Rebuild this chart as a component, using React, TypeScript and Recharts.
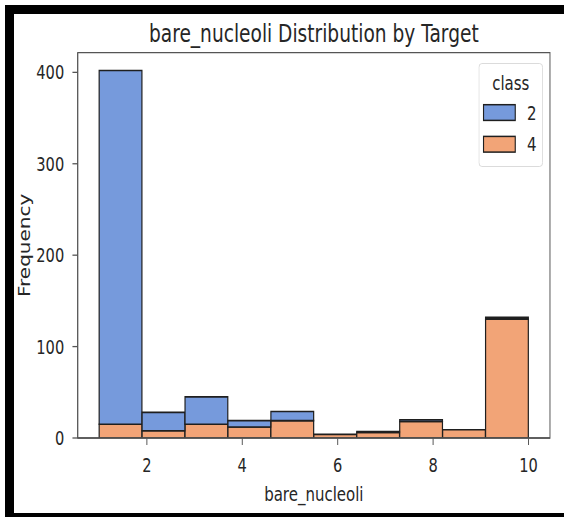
import React from 'react';
import { BarChart, Bar, XAxis, YAxis, Legend, ReferenceArea } from 'recharts';

// ---- data ----
const binCenters = [1.45, 2.35, 3.25, 4.15, 5.05, 5.95, 6.85, 7.75, 8.65, 9.55];
const class2Counts = [387, 20, 30, 7, 10, 0, 1, 2, 0, 2];
const class4Counts = [15, 8, 15, 12, 19, 4, 6, 18, 9, 130];
const xTicks = [2, 4, 6, 8, 10];
const yTicks = [0, 100, 200, 300, 400];
const classLabels = ['2', '4'];
const titleText = 'bare_nucleoli Distribution by Target';
const xLabelText = 'bare_nucleoli';
const yLabelText = 'Frequency';
const legendTitle = 'class';

// ---- styles ----
const C2 = '#769adc';
const C4 = '#f2a477';
const EDGE = '#1f1f1f';
const SPINE = '#555555';
const TXT = '#262626';
const FONT = '"DejaVu Sans", sans-serif';
const SX = 0.75; // horizontal squeeze of the reference
const W = 564 / SX;
const H = 517;

const data = binCenters.map((x, i) => ({ x, c2: class2Counts[i], c4: class4Counts[i] }));

const LegendBox = () => (
  <svg width={86} height={104} style={{ display: 'block' }}>
    <rect x={0.5} y={0.5} width={85} height={103} rx={4} ry={4} fill="#ffffff" fillOpacity={0.85} stroke="#d6d6d6" strokeWidth={1} />
    <text x={43} y={26.7} textAnchor="middle" fontSize={20} fontFamily={FONT} fill={TXT}>{legendTitle}</text>
    {classLabels.map((lab, i) => (
      <g key={lab}>
        <rect x={6.7} y={41.7 + i * 31.7} width={42.3} height={15.7} fill={i === 0 ? C2 : C4} stroke={EDGE} strokeWidth={1.5} />
        <text x={64.6} y={49.7 + i * 31.7} dy="0.355em" fontSize={20} fontFamily={FONT} fill={TXT}>{lab}</text>
      </g>
    ))}
  </svg>
);

export default function App() {
  const plotLeft = 103.6;
  const plotRight = 733.3;
  const plotTop = 52.7;
  const plotBottom = 438;
  const cx = (plotLeft + plotRight) / 2;
  return (
    <div style={{ position: 'absolute', left: 0, top: 0, width: 564, height: 517, overflow: 'hidden', background: '#ffffff' }}>
      <div style={{ position: 'absolute', left: 0, top: 0, width: W, height: H, transform: `scaleX(${SX})`, transformOrigin: '0 0' }}>
        <BarChart
          width={W}
          height={H}
          data={data}
          margin={{ top: plotTop, right: W - plotRight, bottom: 0, left: 0 }}
          barCategoryGap={0}
          barGap={0}
        >
          <XAxis
            type="number"
            dataKey="x"
            domain={[0.55, 10.45]}
            allowDataOverflow
            ticks={xTicks}
            height={H - plotBottom}
            tickSize={7}
            tickMargin={13}
            stroke={SPINE}
            tick={{ fill: TXT, fontSize: 19.5, fontFamily: FONT }}
            axisLine={{ stroke: SPINE, strokeWidth: 1.3 }}
            tickLine={{ stroke: SPINE, strokeWidth: 1.3 }}
          />
          <YAxis
            type="number"
            domain={[0, 421.5]}
            allowDataOverflow
            ticks={yTicks}
            width={plotLeft}
            tickSize={7}
            tickMargin={11}
            stroke={SPINE}
            tick={{ fill: TXT, fontSize: 19.5, fontFamily: FONT }}
            axisLine={{ stroke: SPINE, strokeWidth: 1.3 }}
            tickLine={{ stroke: SPINE, strokeWidth: 1.3 }}
          />
          <Bar dataKey="c4" name={classLabels[1]} stackId="s" fill={C4} stroke={EDGE} strokeWidth={1.6} isAnimationActive={false} />
          <Bar dataKey="c2" name={classLabels[0]} stackId="s" fill={C2} stroke={EDGE} strokeWidth={1.6} isAnimationActive={false} />
          <ReferenceArea x1={0.55} x2={10.45} y1={0} y2={421.5} fill="none" fillOpacity={0} stroke={SPINE} strokeWidth={1.3} ifOverflow="visible" />
          <Legend
            layout="vertical"
            align="center"
            verticalAlign="middle"
            content={() => <LegendBox />}
            wrapperStyle={{ position: 'absolute', left: 637.7, top: 63.3, width: 86, height: 104, bottom: 'auto', right: 'auto' }}
          />
        </BarChart>
        <svg width={W} height={H} style={{ position: 'absolute', left: 0, top: 0, pointerEvents: 'none' }}>
          <text x={cx} y={41.7} textAnchor="middle" fontSize={24.8} fontFamily={FONT} fill={TXT}>{titleText}</text>
          <text x={cx} y={500.7} textAnchor="middle" fontSize={20} fontFamily={FONT} fill={TXT}>{xLabelText}</text>
          <text x={32.7} y={(plotTop + plotBottom) / 2} textAnchor="middle" dy="0.35em" transform={`rotate(-90 32.7 ${(plotTop + plotBottom) / 2})`} fontSize={20} fontFamily={FONT} fill={TXT}>{yLabelText}</text>
        </svg>
      </div>
      <div style={{ position: 'absolute', left: 5, top: 5, width: 559, height: 9, background: '#000' }} />
      <div style={{ position: 'absolute', left: 5, top: 5, width: 9, height: 512, background: '#000' }} />
      <div style={{ position: 'absolute', left: 5, top: 513, width: 559, height: 4, background: '#000' }} />
    </div>
  );
}
